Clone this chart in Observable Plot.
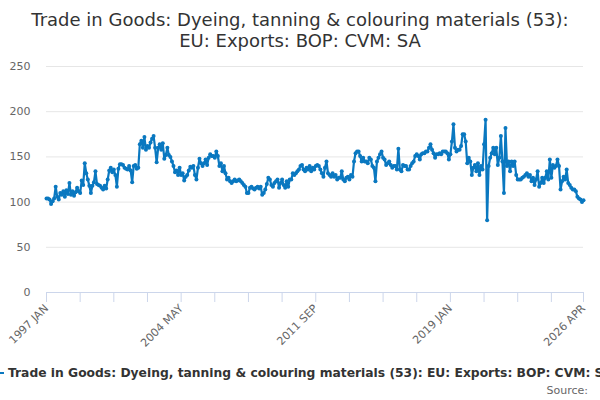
<!DOCTYPE html>
<html>
<head>
<meta charset="utf-8">
<script src="https://cdn.jsdelivr.net/npm/d3@7"></script>
<script src="https://cdn.jsdelivr.net/npm/@observablehq/plot@0.6"></script>
<style>
  html, body { margin: 0; padding: 0; background: #fff; }
  body { width: 600px; height: 400px; overflow: hidden; position: relative; font-family: "DejaVu Sans", sans-serif; }
  #title { position: absolute; top: 9px; left: 0; width: 600px; text-align: center; font-size: 18px; line-height: 21px; color: #333; }
  #chart { position: absolute; top: 56px; left: 0; }
  #legend { position: absolute; top: 365px; left: 8px; white-space: nowrap; font-size: 12.3px; font-weight: bold; color: #333; line-height: 16px; }
  #legsym { position: absolute; top: 372px; left: -8px; width: 12px; height: 2px; background: #0a78c0; }
  #legdot { position: absolute; top: 371px; left: -4px; width: 4px; height: 4px; border-radius: 2px; background: #0a78c0; }
  #source { position: absolute; top: 384px; right: 12px; font-size: 11px; color: #666; line-height: 14px; }
</style>
</head>
<body>
<div id="title">Trade in Goods: Dyeing, tanning &amp; colouring materials (53):<br>EU: Exports: BOP: CVM: SA</div>
<div id="chart"></div>
<div id="legsym"></div><div id="legdot"></div>
<div id="legend">Trade in Goods: Dyeing, tanning &amp; colouring materials (53): EU: Exports: BOP: CVM: SA</div>
<div id="source">Source:</div>
<script>
// Monthly values, 1997 JAN .. 2026 APR (one row per year)
const values = [
  104,104,103,98,101,104,117,106,103,110,108,112,
  106,113,109,121,108,112,107,111,116,112,110,124,
  119,143,132,125,118,110,118,122,134,120,119,118,
  116,114,118,115,125,135,138,133,136,130,117,137,
  142,142,141,138,137,136,140,135,122,140,141,137,
  138,164,168,160,172,158,162,160,166,170,173,160,
  144,160,164,158,165,148,152,160,152,150,145,140,
  133,135,130,138,130,132,124,128,130,135,139,138,
  140,130,125,138,148,143,140,143,147,141,149,153,
  151,151,149,156,151,140,143,134,140,132,125,127,
  123,121,123,125,123,124,125,123,121,119,117,110,
  110,116,117,115,114,116,117,115,117,108,110,114,
  120,127,125,119,117,121,123,125,116,121,125,119,
  116,123,117,125,125,132,130,132,134,136,140,141,
  136,134,138,136,140,134,138,136,140,141,140,136,
  132,128,138,145,132,130,128,132,128,130,125,127,
  127,134,125,123,127,128,125,130,128,145,154,156,
  156,151,145,149,145,145,143,149,147,140,138,123,
  145,149,153,156,149,147,141,143,145,141,138,140,
  140,136,159,136,134,141,140,140,136,136,140,143,
  145,151,153,151,147,153,154,154,156,156,160,164,
  158,154,149,153,153,154,153,156,156,156,154,147,
  153,167,186,160,156,158,158,162,175,175,167,143,
  149,145,130,138,141,134,143,130,140,136,164,191,
  80,140,149,154,160,153,160,141,149,173,145,110,
  182,140,145,134,145,140,145,130,125,125,125,127,
  128,130,132,128,130,123,127,119,125,134,117,121,
  127,121,127,134,125,147,127,141,138,140,147,140,
  114,123,128,125,136,121,119,116,114,114,112,106,
  104,103,100,102
];
const yTicks = [0, 50, 100, 150, 200, 250];
const xTickPositions = [0,22,44,66,88,110,132,154,176,198,220,242,264,286,308,330,351];
const xLabelPositions = [0, 88, 176, 264, 351];
const xTickLabels = ["1997 JAN", "2004 MAY", "2011 SEP", "2019 JAN", "2026 APR"];

const data = values.map((v, i) => ({i, v}));
const blue = "#0a78c0";

const chart = Plot.plot({
  width: 600,
  height: 300,
  marginTop: 10,
  marginLeft: 46,
  marginRight: 17,
  marginBottom: 64,
  style: {fontFamily: "DejaVu Sans", fontSize: "11px", color: "#666", background: "white"},
  x: {domain: [0, values.length - 1]},
  y: {domain: [0, 250]},
  marks: [
    Plot.gridY(yTicks.filter(d => d > 0), {stroke: "#e6e6e6", strokeOpacity: 1}),
    Plot.axisY(yTicks, {tickSize: 0, tickPadding: 16, fill: "#666", label: null}),
    Plot.ruleY([0], {stroke: "#ccd6eb"}),
    Plot.axisX(xTickPositions, {tickSize: 10, tickFormat: () => "", stroke: "#ccd6eb", label: null}),
    Plot.axisX(xLabelPositions, {tickSize: 0, tickPadding: 14, tickRotate: -45,
      tickFormat: d => xTickLabels[xLabelPositions.indexOf(d)], fill: "#666", label: null}),
    Plot.line(data, {x: "i", y: "v", stroke: blue, strokeWidth: 2.2}),
    Plot.dot(data, {x: "i", y: "v", r: 2, fill: blue})
  ]
});
document.getElementById("chart").appendChild(chart);
</script>
</body>
</html>
